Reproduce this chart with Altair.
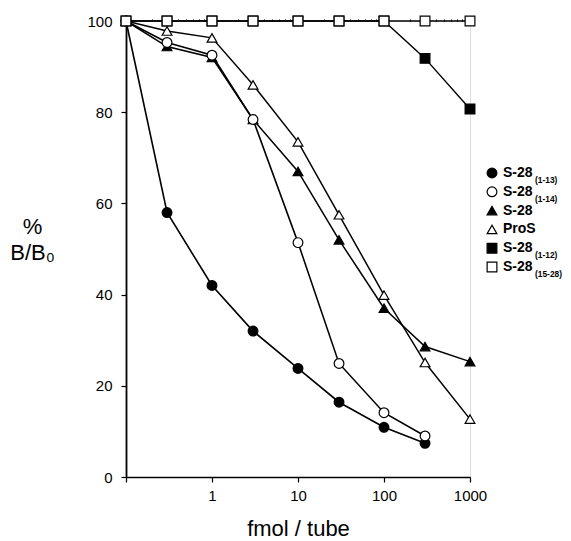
import altair as alt
import pandas as pd

FONT = "Liberation Sans"

# ---- data ----
conc = [0.1, 0.3, 1, 3, 10, 30, 100, 300, 1000]
s28_1_13 = [100, 58.0, 42.0, 32.0, 23.8, 16.4, 10.9, 7.4]
s28_1_14 = [100, 95.3, 92.5, 78.4, 51.4, 24.9, 14.1, 9.0]
s28_full = [100, 94.4, 92.0, 78.4, 67.0, 52.0, 37.0, 28.6, 25.3]
pros = [100, 97.8, 96.3, 86.0, 73.5, 57.5, 39.9, 25.1, 12.7]
s28_1_12 = [100, 100, 100, 100, 100, 100, 100, 91.8, 80.7]
s28_15_28 = [100, 100, 100, 100, 100, 100, 100, 100, 100]

series_names = ["S-28 (1-13)", "S-28 (1-14)", "S-28", "ProS", "S-28 (1-12)", "S-28 (15-28)"]
legend_main = ["S-28", "S-28", "S-28", "ProS", "S-28", "S-28"]
legend_sub = ["(1-13)", "(1-14)", "", "", "(1-12)", "(15-28)"]
shapes = ["circle", "circle", "triangle-up", "triangle-up", "square", "square"]
fills = ["black", "white", "black", "white", "black", "white"]
sizes = [95, 95, 115, 115, 85, 80]
widths = [1.6, 1.4, 1.6, 1.4, 2.4, 1.1]

# drawing order (later drawn on top)
draw_order = [
    ("S-28 (1-12)", s28_1_12),
    ("S-28 (1-13)", s28_1_13),
    ("S-28", s28_full),
    ("ProS", pros),
    ("S-28 (1-14)", s28_1_14),
    ("S-28 (15-28)", s28_15_28),
]
rows = []
for name, vals in draw_order:
    for c, v in zip(conc, vals):
        rows.append({"series": name, "conc": c, "pct": v})
df = pd.DataFrame(rows)

leg = pd.DataFrame({
    "idx": list(range(len(series_names))),
    "series": series_names,
    "main": legend_main,
    "sub": legend_sub,
})

# ---- scales / axes ----
xscale = alt.Scale(type="log", domain=[0.1, 1000], nice=False)
yscale = alt.Scale(domain=[0, 100], nice=False)

x_axis = alt.Axis(
    values=[0.1, 1, 10, 100, 1000],
    labelExpr="datum.value >= 1 ? format(datum.value, 'd') : ''",
    grid=False, domainColor="black", domainWidth=1.5, tickColor="black",
    tickWidth=1.2, tickSize=5, labelPadding=6, labelFont=FONT, labelFontSize=15,
    labelColor="black", labelFlush=False,
    title="fmol / tube", titleFont=FONT, titleFontSize=22, titleFontWeight="normal",
    titleColor="black", titleY=58, titleBaseline="alphabetic",
)
y_axis = alt.Axis(
    values=[0, 20, 40, 60, 80, 100],
    grid=False, domainColor="black", domainWidth=1.8, tickColor="black",
    tickWidth=1.2, tickSize=5, labelPadding=9, labelFont=FONT, labelFontSize=15,
    labelColor="black",
    title=["%", "B/B\u2080"], titleAngle=0, titleAlign="center",
    titleBaseline="alphabetic", titleX=-94, titleY=212, titleLineHeight=26,
    titleFont=FONT, titleFontSize=22, titleFontWeight="normal", titleColor="black",
)
minor_vals = [m * 10 ** e for e in (-1, 0, 1, 2) for m in range(2, 10)]
x_minor_axis = alt.Axis(
    values=minor_vals, labels=False, domain=False, grid=False, title=None,
    tickColor="black", tickWidth=1, tickSize=2,
)

shape_enc = alt.Shape("series:N", scale=alt.Scale(domain=series_names, range=shapes), legend=None)
fill_enc = alt.Fill("series:N", scale=alt.Scale(domain=series_names, range=fills), legend=None)
size_enc = alt.Size("series:N", scale=alt.Scale(domain=series_names, range=sizes), legend=None)

base = alt.Chart(df)
lines = base.mark_line(color="black").encode(
    x=alt.X("conc:Q", scale=xscale, axis=x_axis),
    y=alt.Y("pct:Q", scale=yscale, axis=y_axis),
    detail="series:N",
    strokeWidth=alt.StrokeWidth("series:N", scale=alt.Scale(domain=series_names, range=widths), legend=None),
    order="conc:Q",
)
points = base.mark_point(filled=True, stroke="black", strokeWidth=1.2, opacity=1).encode(
    x=alt.X("conc:Q", scale=xscale, axis=x_axis),
    y=alt.Y("pct:Q", scale=yscale, axis=y_axis),
    shape=shape_enc, fill=fill_enc, size=size_enc,
)
inner = alt.layer(lines, points)

minor = base.mark_point(opacity=0).encode(
    x=alt.X("conc:Q", scale=xscale, axis=x_minor_axis),
    y=alt.Y("pct:Q", scale=yscale, axis=None),
)
main = alt.layer(inner, minor).resolve_axis(x="independent", y="independent")

# ---- legend ----
leg_y = alt.Y("idx:O", scale=alt.Scale(type="point", range=[152, 246], padding=0), axis=None)
lbase = alt.Chart(leg)
leg_pts = lbase.mark_point(filled=True, stroke="black", strokeWidth=1.2, opacity=1).encode(
    x=alt.value(366), y=leg_y,
    shape=shape_enc, fill=fill_enc,
    size=alt.Size("series:N", scale=alt.Scale(domain=series_names, range=sizes), legend=None),
)
leg_main = lbase.mark_text(
    align="left", baseline="middle", font=FONT, fontSize=14, fontWeight="bold", color="black"
).encode(x=alt.value(377), y=leg_y, text="main:N")
leg_sub = lbase.mark_text(
    align="left", baseline="middle", font=FONT, fontSize=8.4, fontWeight="bold", color="black", dy=7
).encode(x=alt.value(409), y=leg_y, text="sub:N")
legend = alt.layer(leg_pts, leg_main, leg_sub)

chart = alt.layer(main, legend).resolve_scale(x="independent", y="independent").properties(
    width=344, height=456,
    autosize=alt.AutoSizeParams(type="none"),
    padding={"left": 118, "top": 13, "right": 93, "bottom": 63},
).configure_view(strokeWidth=0).configure(background="white")

chart.save("out.html", embed_options={"renderer": "svg", "actions": False})
